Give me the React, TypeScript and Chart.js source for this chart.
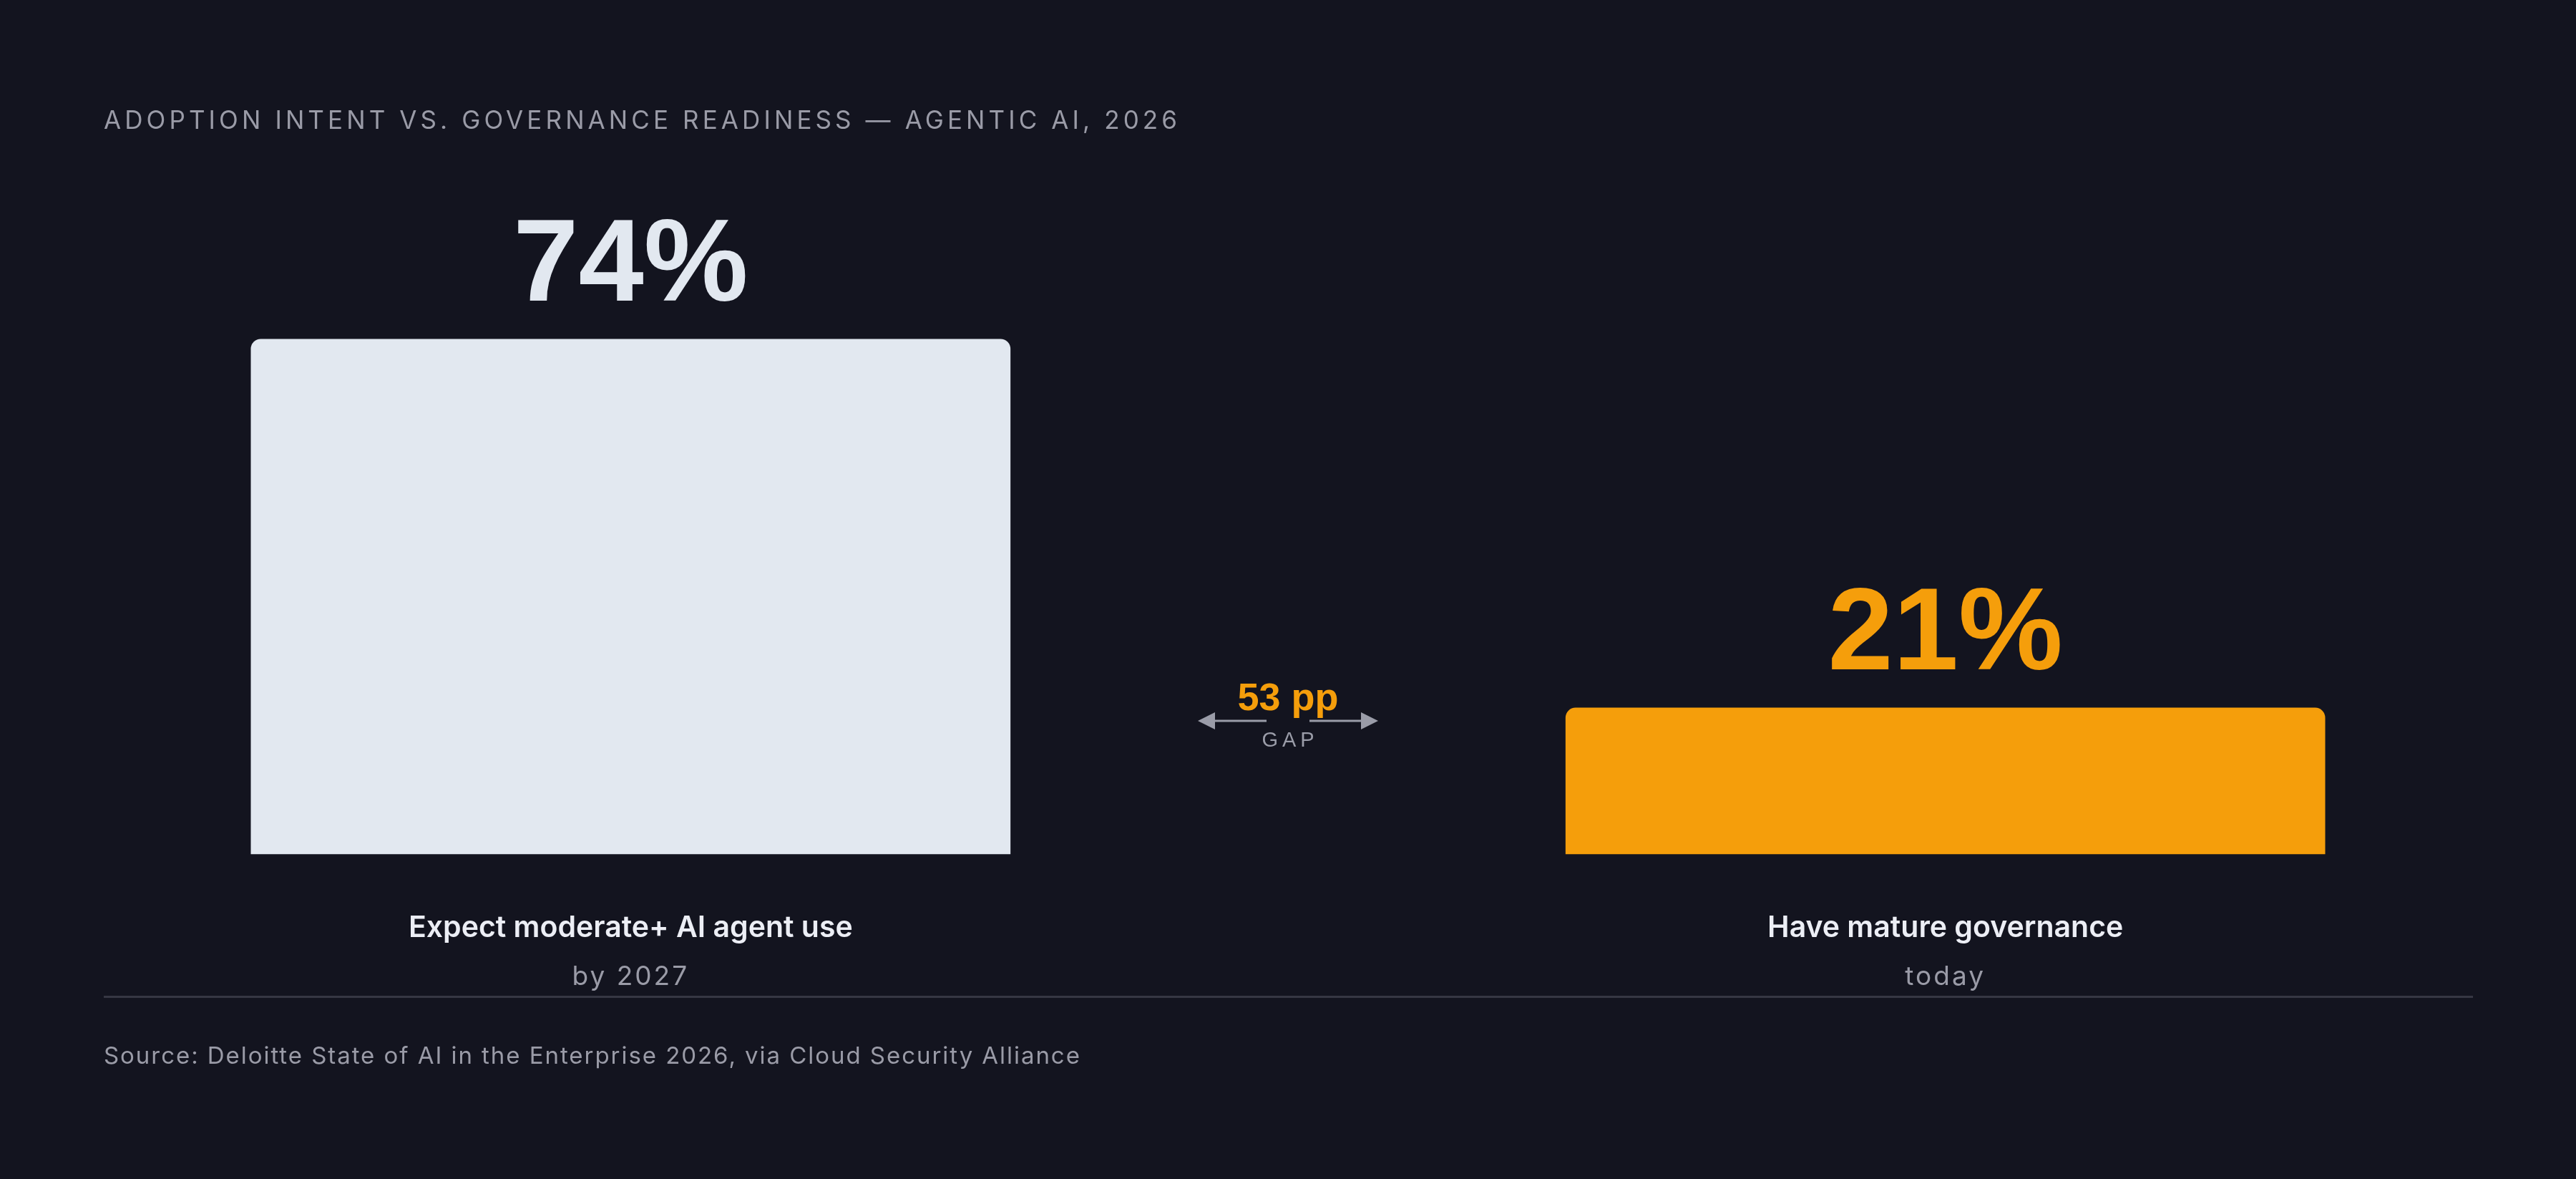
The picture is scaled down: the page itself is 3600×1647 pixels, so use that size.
import React, { useRef, useEffect } from 'react';
import Chart from 'chart.js/auto';

const categories = ['Expect moderate+ AI agent use', '', 'Have mature governance'];
const subLabels = ['by 2027', '', 'today'];
const values: (number | null)[] = [74, null, 21];
const barColors = ['#e2e8f0', 'rgba(0,0,0,0)', '#f59e0b'];
const labelColors = ['#e2e8f0', '', '#f59e0b'];

const BG = '#13141f';
const SANS = 'Inter, "Noto Sans", sans-serif';

const gapPlugin = {
  id: 'gapLabels',
  afterDatasetsDraw(chart: any) {
    const ctx: CanvasRenderingContext2D = chart.ctx;
    const meta = chart.getDatasetMeta(0);
    const xScale = chart.scales.x;
    const yScale = chart.scales.y;
    const bottom = chart.chartArea.bottom;
    ctx.save();
    ctx.textAlign = 'center';
    ctx.textBaseline = 'alphabetic';

    values.forEach((v, i) => {
      const x = xScale.getPixelForValue(i);
      if (v !== null) {
        const bar = meta.data[i];
        ctx.font = 'bold 164px "Liberation Sans", Arial, sans-serif';
        ctx.fillStyle = labelColors[i];
        (ctx as any).letterSpacing = '0px';
        ctx.fillText(v + '%', bar.x, bar.y - 54);
      }
      if (categories[i]) {
        ctx.font = '600 41px ' + SANS;
        ctx.fillStyle = '#eceef5';
        (ctx as any).letterSpacing = '0px';
        ctx.fillText(categories[i], x, bottom + 116);
        ctx.font = '400 37px ' + SANS;
        ctx.fillStyle = '#9a9ba7';
        (ctx as any).letterSpacing = '3px';
        ctx.fillText(subLabels[i], x, bottom + 183);
      }
    });

    // gap annotation between the two bars
    const a = values[0] as number;
    const b = values[2] as number;
    const cx = xScale.getPixelForValue(1);
    const y2 = yScale.getPixelForValue(b);
    (ctx as any).letterSpacing = '0px';
    ctx.font = 'bold 54px "Liberation Sans", Arial, sans-serif';
    ctx.fillStyle = '#f59e0b';
    ctx.fillText((a - b) + ' pp', cx, y2 + 3);

    const ay = y2 + 18;
    ctx.strokeStyle = '#9a9ca8';
    ctx.fillStyle = '#9a9ca8';
    ctx.lineWidth = 3;
    ctx.beginPath();
    ctx.moveTo(cx - 110, ay);
    ctx.lineTo(cx - 30, ay);
    ctx.moveTo(cx + 30, ay);
    ctx.lineTo(cx + 110, ay);
    ctx.stroke();
    ctx.beginPath();
    ctx.moveTo(cx - 126, ay);
    ctx.lineTo(cx - 102, ay - 12);
    ctx.lineTo(cx - 102, ay + 12);
    ctx.closePath();
    ctx.moveTo(cx + 126, ay);
    ctx.lineTo(cx + 102, ay - 12);
    ctx.lineTo(cx + 102, ay + 12);
    ctx.closePath();
    ctx.fill();

    ctx.font = '400 29px "Liberation Sans", Arial, sans-serif';
    (ctx as any).letterSpacing = '6px';
    ctx.fillStyle = '#9a9ca8';
    ctx.fillText('GAP', cx + 3, y2 + 54);
    ctx.restore();
  },
};

const App: React.FC = () => {
  const chartRef = useRef<HTMLCanvasElement>(null);
  const chartInstance = useRef<Chart | null>(null);

  useEffect(() => {
    document.body.style.margin = '0';
    document.body.style.background = BG;
    if (chartRef.current) {
      const ctx = chartRef.current.getContext('2d');
      if (ctx) {
        if (chartInstance.current) {
          chartInstance.current.destroy();
        }
        chartInstance.current = new Chart(ctx, {
          type: 'bar',
          data: {
            labels: categories,
            datasets: [{
              data: values,
              backgroundColor: barColors,
              borderRadius: { topLeft: 14, topRight: 14, bottomLeft: 0, bottomRight: 0 },
              borderSkipped: false,
              barThickness: 1061,
              clip: false,
            } as any],
          },
          plugins: [gapPlugin],
          options: {
            animation: false,
            responsive: false,
            maintainAspectRatio: false,
            layout: { padding: { top: 221, bottom: 454, left: 422, right: 422 } },
            plugins: {
              legend: { display: false },
              tooltip: { enabled: false },
            },
            scales: {
              x: { display: false },
              y: { display: false, min: 0, max: 100 },
            },
          },
        });
      }
    }

    return () => {
      if (chartInstance.current) {
        chartInstance.current.destroy();
        chartInstance.current = null;
      }
    };
  }, []);

  return (
    <div style={{ position: 'relative', width: 3600, height: 1647, background: BG, overflow: 'hidden' }}>
      <canvas ref={chartRef} width={3600} height={1647} style={{ position: 'absolute', left: 0, top: 0, width: 3600, height: 1647 }} />
      <div style={{
        position: 'absolute', left: 145, top: 150, fontFamily: SANS, fontSize: 35, lineHeight: 1,
        letterSpacing: '5.1px', color: '#9a9ba7', whiteSpace: 'nowrap',
      }}>
        ADOPTION INTENT VS. GOVERNANCE READINESS — AGENTIC AI, 2026
      </div>
      <div style={{ position: 'absolute', left: 145, top: 1391, width: 3311, height: 3, background: '#363743' }} />
      <div style={{
        position: 'absolute', left: 145, top: 1458, fontFamily: SANS, fontSize: 33, lineHeight: 1,
        letterSpacing: '1.95px', color: '#9a9ba7', whiteSpace: 'nowrap',
      }}>
        Source: Deloitte State of AI in the Enterprise 2026, via Cloud Security Alliance
      </div>
    </div>
  );
};

export default App;
